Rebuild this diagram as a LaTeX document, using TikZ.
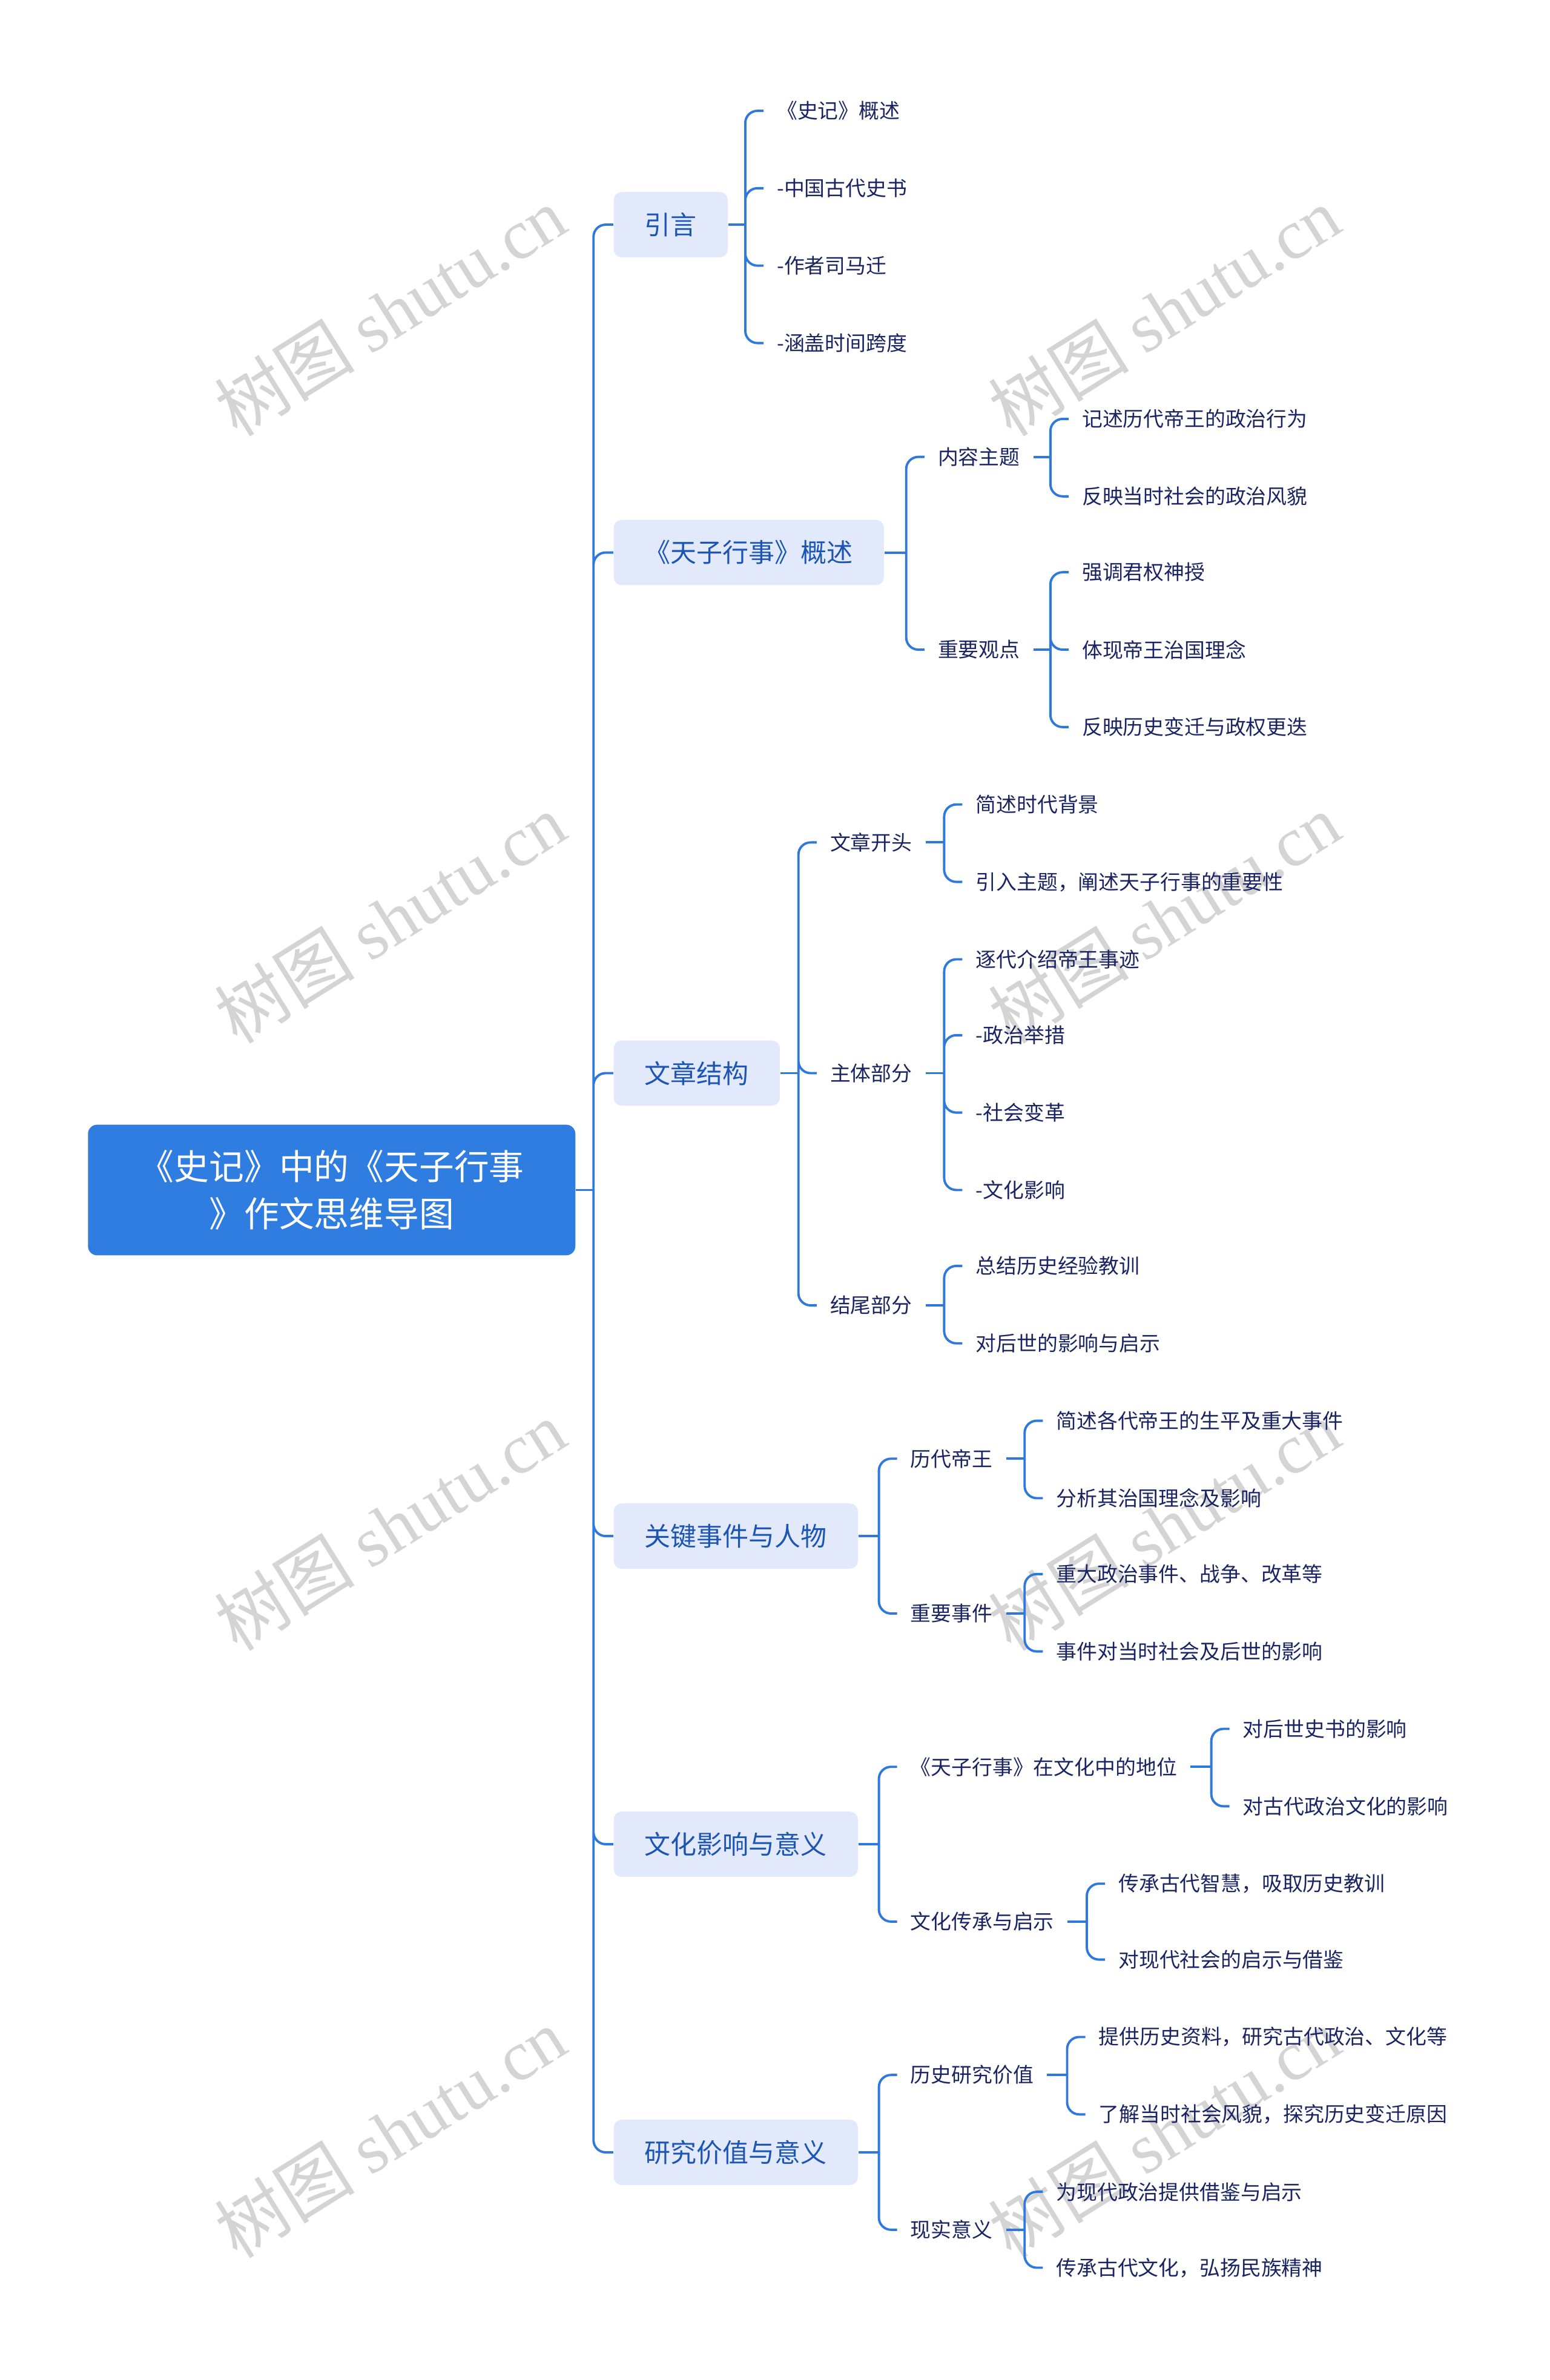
\documentclass[tikz,border=0pt]{standalone}
\usepackage{fontspec}
\setmainfont{Noto Sans CJK SC}
\newfontfamily\wmserif{Liberation Serif}

\definecolor{mapblue}{HTML}{2F7DE1}
\definecolor{linkblue}{HTML}{2F78DE}
\definecolor{topicfill}{HTML}{E1E9FA}
\definecolor{topictext}{HTML}{1D55B5}
\definecolor{leaftext}{HTML}{1B2462}
\definecolor{wmgrey}{HTML}{D4D4D4}

\tikzset{
	rootbox/.style={fill=mapblue, rounded corners=0.15cm, text=white, align=center,
		minimum width=8.025cm, minimum height=2.15cm, font=\fontsize{16.4}{22}\selectfont},
	topicbox/.style={fill=topicfill, rounded corners=0.13cm, text=topictext, anchor=west,
		minimum height=1.075cm, inner xsep=0.51cm, font=\fontsize{12.2}{14}\selectfont},
	subtopic/.style={text=leaftext, anchor=west, inner xsep=0.215cm,
		font=\fontsize{9.6}{11}\selectfont},
	leaf/.style={subtopic},
	link/.style={linkblue, line width=1.1pt},
	bracket/.style={link, rounded corners=0.2cm},
	watermark/.style={text=wmgrey, rotate=32, font=\fontsize{33}{36}\selectfont}
}

\begin{document}
\begin{tikzpicture}[x=0.025cm, y=-0.025cm]
			% Canvas
			\useasboundingbox (0,0) rectangle (1021,1568);
			% Watermarks (behind)
			\node[watermark] (wm1) at (257,205) {树图 {\wmserif shutu.cn}};
			\node[watermark] (wm2) at (767,205) {树图 {\wmserif shutu.cn}};
			\node[watermark] (wm3) at (257,605) {树图 {\wmserif shutu.cn}};
			\node[watermark] (wm4) at (767,605) {树图 {\wmserif shutu.cn}};
			\node[watermark] (wm5) at (257,1005) {树图 {\wmserif shutu.cn}};
			\node[watermark] (wm6) at (767,1005) {树图 {\wmserif shutu.cn}};
			\node[watermark] (wm7) at (257,1405) {树图 {\wmserif shutu.cn}};
			\node[watermark] (wm8) at (767,1405) {树图 {\wmserif shutu.cn}};
			% Root
			\node[rootbox] (root) at (218.5,784) {《史记》中的《天子行事\\》作文思维导图};
			\coordinate (root-j) at (391,784);
			% Main topics
			\node[topicbox] (intro) at (404,148) {引言};
			\node[topicbox] (view) at (404,364) {《天子行事》概述};
			\node[topicbox] (struct) at (404,707) {文章结构};
			\node[topicbox] (events) at (404,1012) {关键事件与人物};
			\node[topicbox] (culture) at (404,1215) {文化影响与意义};
			\node[topicbox] (value) at (404,1418) {研究价值与意义};
			\draw[link] (root.east) -- (root-j);
			\draw[bracket] (root-j) |- (intro.west) (root-j) |- (view.west)
				(root-j) |- (struct.west) (root-j) |- (events.west)
				(root-j) |- (culture.west) (root-j) |- (value.west);
			% Intro
			\coordinate (intro-j) at (491,148);
			\node[leaf] (intro-a) at (503,73) {《史记》概述};
			\node[leaf] (intro-b) at (503,124) {-中国古代史书};
			\node[leaf] (intro-c) at (503,175) {-作者司马迁};
			\node[leaf] (intro-d) at (503,226) {-涵盖时间跨度};
			\draw[link] (intro.east) -- (intro-j);
			\draw[bracket] (intro-j) |- (intro-a.west) (intro-j) |- (intro-b.west)
				(intro-j) |- (intro-c.west) (intro-j) |- (intro-d.west);
			% Overview
			\coordinate (view-j) at (597,364);
			\node[subtopic] (theme) at (609,301) {内容主题};
			\node[subtopic] (points) at (609,428) {重要观点};
			\draw[link] (view.east) -- (view-j);
			\draw[bracket] (view-j) |- (theme.west) (view-j) |- (points.west);
			\coordinate (theme-j) at (692,301);
			\node[leaf] (theme-a) at (704,276) {记述历代帝王的政治行为};
			\node[leaf] (theme-b) at (704,327) {反映当时社会的政治风貌};
			\draw[link] (theme.east) -- (theme-j);
			\draw[bracket] (theme-j) |- (theme-a.west) (theme-j) |- (theme-b.west);
			\coordinate (points-j) at (692,428);
			\node[leaf] (points-a) at (704,377) {强调君权神授};
			\node[leaf] (points-b) at (704,428) {体现帝王治国理念};
			\node[leaf] (points-c) at (704,479) {反映历史变迁与政权更迭};
			\draw[link] (points.east) -- (points-j);
			\draw[bracket] (points-j) |- (points-a.west) (points-j) |- (points-b.west)
				(points-j) |- (points-c.west);
			% Structure
			\coordinate (struct-j) at (526,707);
			\node[subtopic] (opening) at (538,555) {文章开头};
			\node[subtopic] (body) at (538,707) {主体部分};
			\node[subtopic] (ending) at (538,860) {结尾部分};
			\draw[link] (struct.east) -- (struct-j);
			\draw[bracket] (struct-j) |- (opening.west) (struct-j) |- (body.west)
				(struct-j) |- (ending.west);
			\coordinate (opening-j) at (622,555);
			\node[leaf] (opening-a) at (634,530) {简述时代背景};
			\node[leaf] (opening-b) at (634,581) {引入主题，阐述天子行事的重要性};
			\draw[link] (opening.east) -- (opening-j);
			\draw[bracket] (opening-j) |- (opening-a.west) (opening-j) |- (opening-b.west);
			\coordinate (body-j) at (622,707);
			\node[leaf] (body-a) at (634,632) {逐代介绍帝王事迹};
			\node[leaf] (body-b) at (634,682) {-政治举措};
			\node[leaf] (body-c) at (634,733) {-社会变革};
			\node[leaf] (body-d) at (634,784) {-文化影响};
			\draw[link] (body.east) -- (body-j);
			\draw[bracket] (body-j) |- (body-a.west) (body-j) |- (body-b.west)
				(body-j) |- (body-c.west) (body-j) |- (body-d.west);
			\coordinate (ending-j) at (622,860);
			\node[leaf] (ending-a) at (634,834) {总结历史经验教训};
			\node[leaf] (ending-b) at (634,885) {对后世的影响与启示};
			\draw[link] (ending.east) -- (ending-j);
			\draw[bracket] (ending-j) |- (ending-a.west) (ending-j) |- (ending-b.west);
			% Key events and people
			\coordinate (events-j) at (579,1012);
			\node[subtopic] (rulers) at (591,961) {历代帝王};
			\node[subtopic] (affairs) at (591,1063) {重要事件};
			\draw[link] (events.east) -- (events-j);
			\draw[bracket] (events-j) |- (rulers.west) (events-j) |- (affairs.west);
			\coordinate (rulers-j) at (675,961);
			\node[leaf] (rulers-a) at (687,936) {简述各代帝王的生平及重大事件};
			\node[leaf] (rulers-b) at (687,987) {分析其治国理念及影响};
			\draw[link] (rulers.east) -- (rulers-j);
			\draw[bracket] (rulers-j) |- (rulers-a.west) (rulers-j) |- (rulers-b.west);
			\coordinate (affairs-j) at (675,1063);
			\node[leaf] (affairs-a) at (687,1037) {重大政治事件、战争、改革等};
			\node[leaf] (affairs-b) at (687,1088) {事件对当时社会及后世的影响};
			\draw[link] (affairs.east) -- (affairs-j);
			\draw[bracket] (affairs-j) |- (affairs-a.west) (affairs-j) |- (affairs-b.west);
			% Cultural influence
			\coordinate (culture-j) at (579,1215);
			\node[subtopic] (status) at (591,1164) {《天子行事》在文化中的地位};
			\node[subtopic] (legacy) at (591,1266) {文化传承与启示};
			\draw[link] (culture.east) -- (culture-j);
			\draw[bracket] (culture-j) |- (status.west) (culture-j) |- (legacy.west);
			\coordinate (status-j) at (798,1164);
			\node[leaf] (status-a) at (810,1139) {对后世史书的影响};
			\node[leaf] (status-b) at (810,1190) {对古代政治文化的影响};
			\draw[link] (status.east) -- (status-j);
			\draw[bracket] (status-j) |- (status-a.west) (status-j) |- (status-b.west);
			\coordinate (legacy-j) at (716,1266);
			\node[leaf] (legacy-a) at (728,1241) {传承古代智慧，吸取历史教训};
			\node[leaf] (legacy-b) at (728,1291) {对现代社会的启示与借鉴};
			\draw[link] (legacy.east) -- (legacy-j);
			\draw[bracket] (legacy-j) |- (legacy-a.west) (legacy-j) |- (legacy-b.west);
			% Research value
			\coordinate (value-j) at (579,1418);
			\node[subtopic] (history) at (591,1367) {历史研究价值};
			\node[subtopic] (today) at (591,1469) {现实意义};
			\draw[link] (value.east) -- (value-j);
			\draw[bracket] (value-j) |- (history.west) (value-j) |- (today.west);
			\coordinate (history-j) at (703,1367);
			\node[leaf] (history-a) at (715,1342) {提供历史资料，研究古代政治、文化等};
			\node[leaf] (history-b) at (715,1393) {了解当时社会风貌，探究历史变迁原因};
			\draw[link] (history.east) -- (history-j);
			\draw[bracket] (history-j) |- (history-a.west) (history-j) |- (history-b.west);
			\coordinate (today-j) at (675,1469);
			\node[leaf] (today-a) at (687,1444) {为现代政治提供借鉴与启示};
			\node[leaf] (today-b) at (687,1494) {传承古代文化，弘扬民族精神};
			\draw[link] (today.east) -- (today-j);
			\draw[bracket] (today-j) |- (today-a.west) (today-j) |- (today-b.west);
		\end{tikzpicture}
\end{document}
